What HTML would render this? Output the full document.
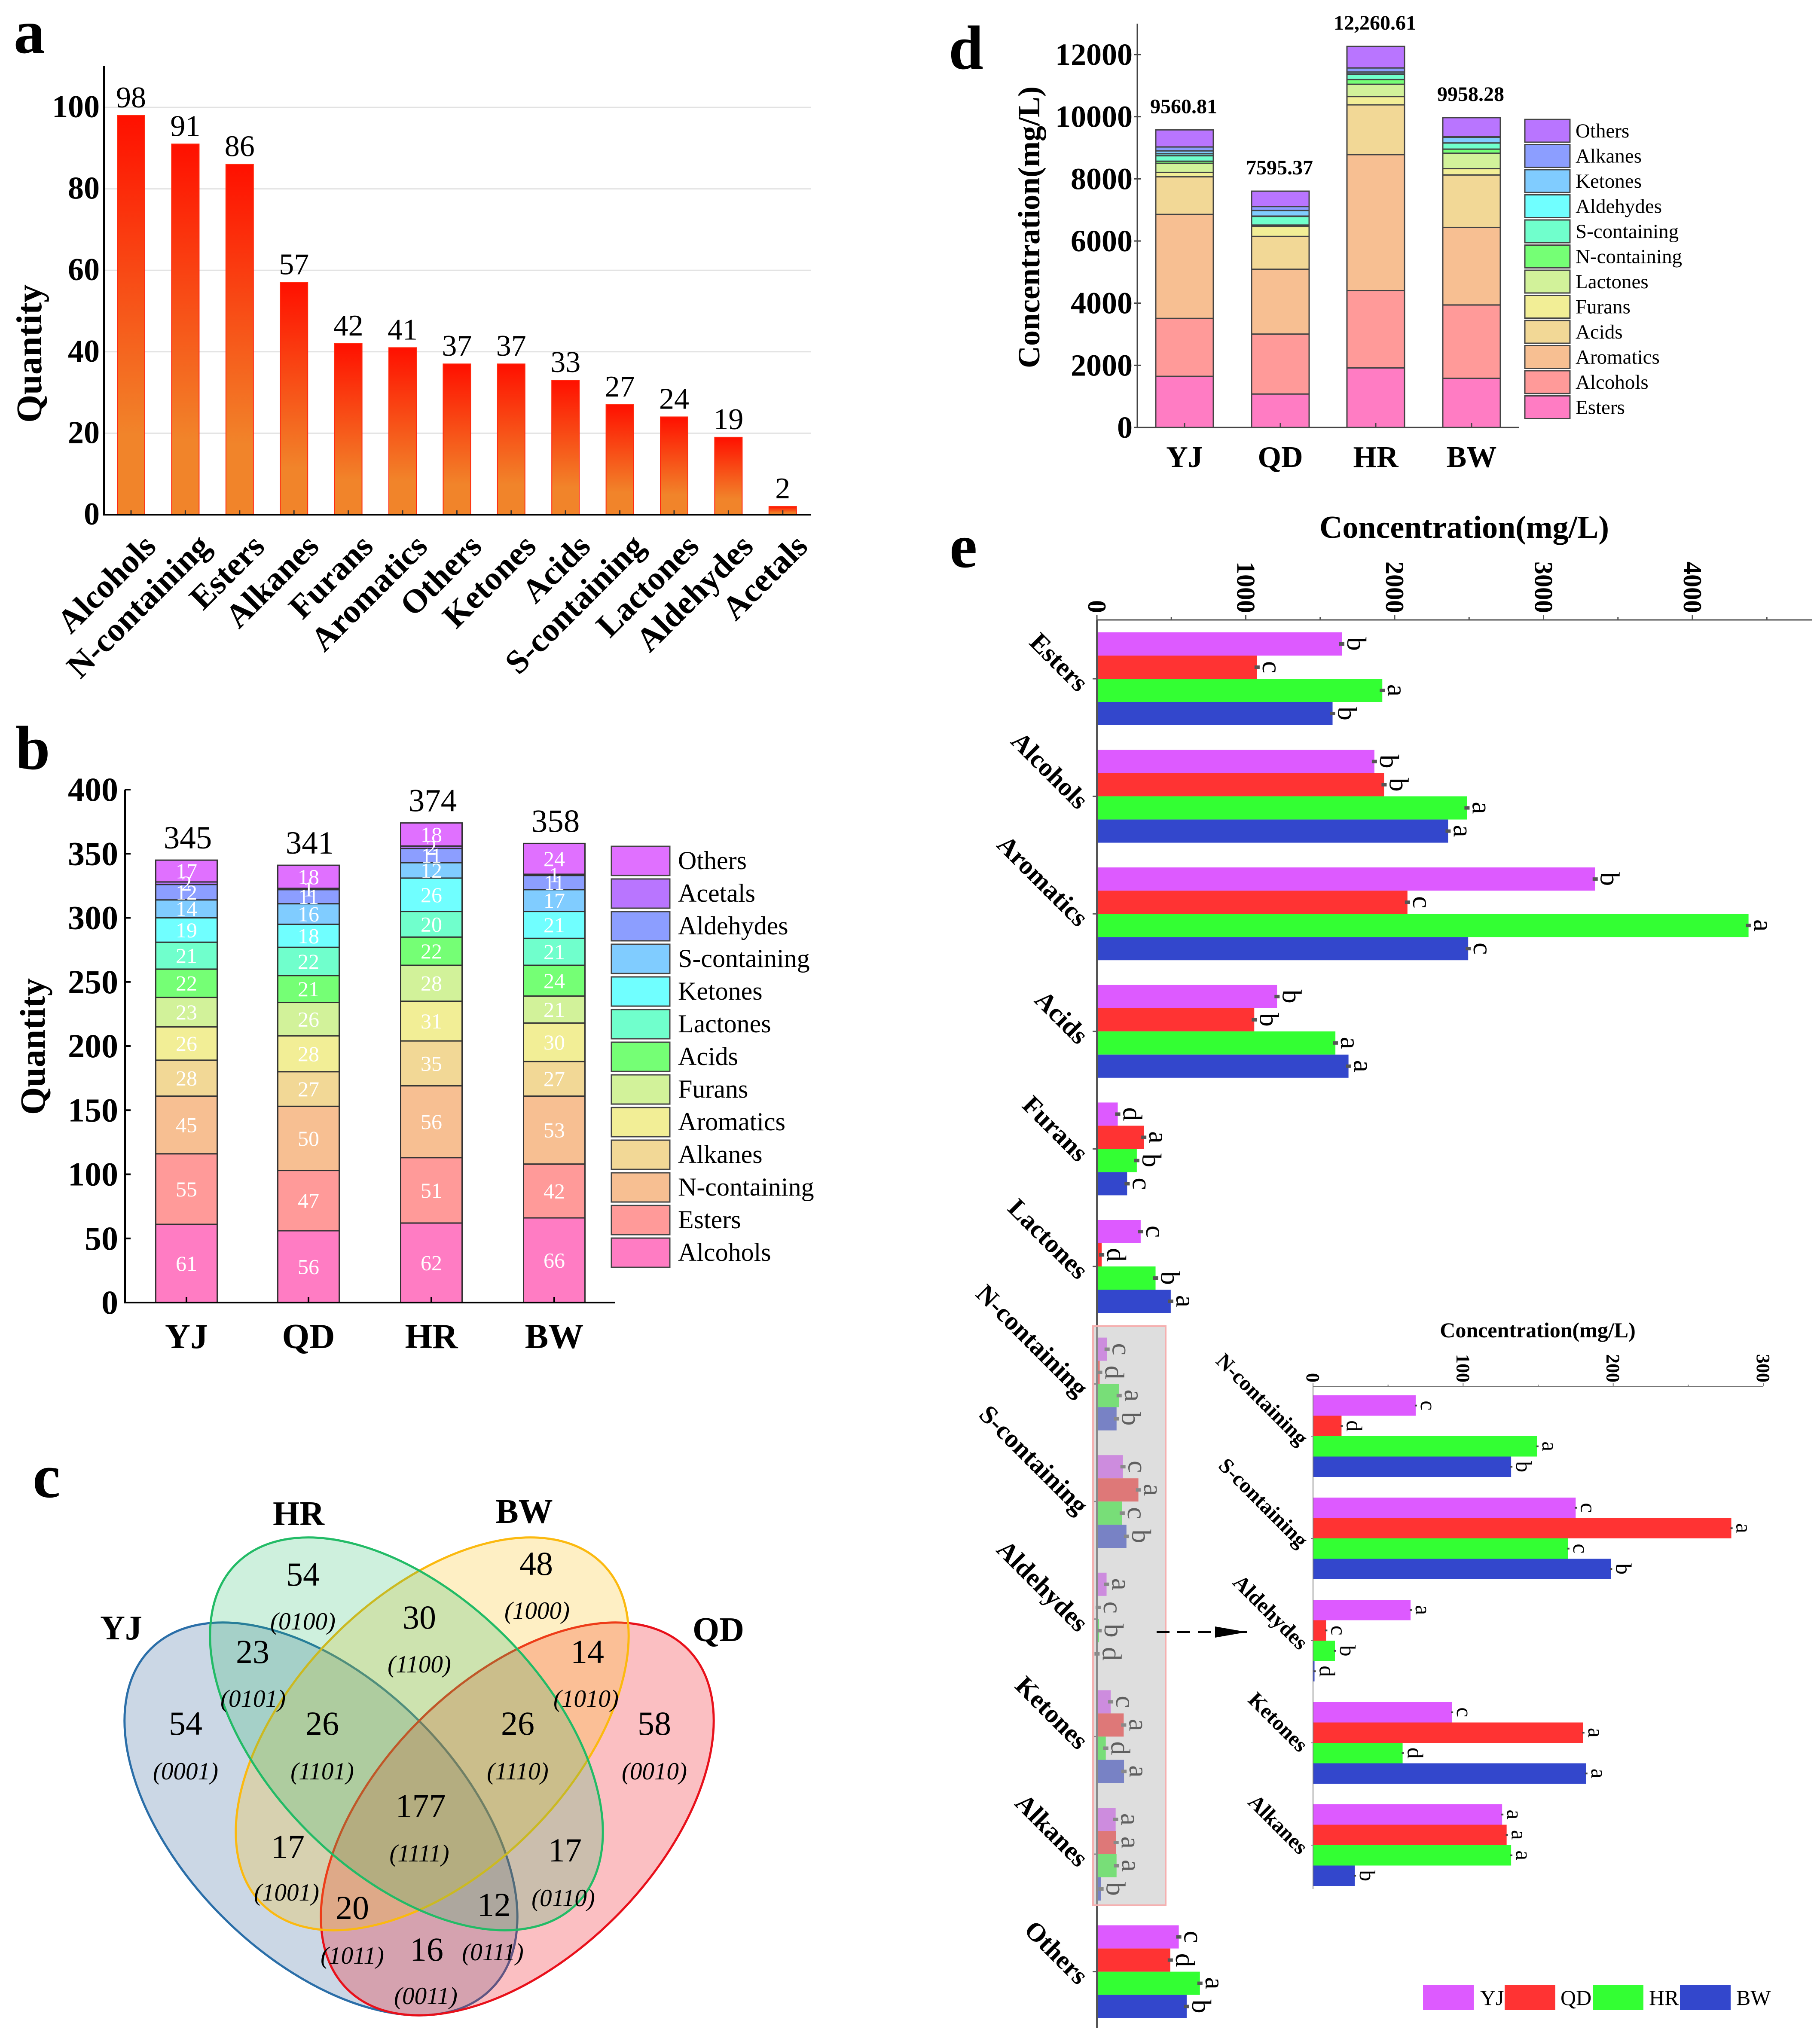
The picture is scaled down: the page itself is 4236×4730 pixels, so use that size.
<!DOCTYPE html>
<html lang="en">
<head>
<meta charset="utf-8">
<title>Flavor compound figure</title>
<style>
html,body{margin:0;padding:0;background:#fff;}
svg{display:block;font-family:"Liberation Serif",serif;}
</style>
</head>
<body>
<svg id="figure" xmlns="http://www.w3.org/2000/svg" width="4236" height="4730" viewBox="0 0 4236 4730">
<defs>
<linearGradient id="barGrad" x1="0" y1="0" x2="0" y2="1"><stop offset="0" stop-color="#ff1000"/><stop offset="0.8" stop-color="#f1842a"/><stop offset="1" stop-color="#f1842a"/></linearGradient>
<marker id="arrowHead" markerWidth="74" markerHeight="26" refX="74" refY="13" orient="auto" markerUnits="userSpaceOnUse"><path d="M0 0 L74 13 L0 26 Z" fill="#000"/></marker>
</defs>
<text x="32" y="123" font-size="145" font-weight="bold">a</text>
<text x="36" y="1790" font-size="145" font-weight="bold">b</text>
<text x="76" y="3485" font-size="145" font-weight="bold">c</text>
<text x="2208" y="160" font-size="145" font-weight="bold">d</text>
<text x="2210" y="1320" font-size="145" font-weight="bold">e</text>
<g id="panelA"></g>
<g id="panelB"></g>
<g id="panelC" transform="translate(0 20)">
<g transform="translate(747 4214) rotate(45)"><ellipse rx="560" ry="323" fill="#2f6099" fill-opacity=".25" stroke="#2a6ea8" stroke-width="5"/></g>
<g transform="translate(1204 4214) rotate(-45)"><ellipse rx="560" ry="323" fill="#f0141e" fill-opacity=".27" stroke="#e8101a" stroke-width="5"/></g>
<g transform="translate(1006 4016) rotate(-45)"><ellipse rx="560" ry="323" fill="#fbc015" fill-opacity=".25" stroke="#fbb90f" stroke-width="5"/></g>
<g transform="translate(946 4016) rotate(45)"><ellipse rx="560" ry="323" fill="#22bb66" fill-opacity=".22" stroke="#22bb66" stroke-width="5"/></g>
<g font-size="80" font-weight="bold" text-anchor="middle">
<text x="282" y="3796">YJ</text>
<text x="695" y="3530">HR</text>
<text x="1220" y="3525">BW</text>
<text x="1672" y="3800">QD</text>
</g>
<g font-size="78" text-anchor="middle">
<text x="432" y="4018">54</text>
<text x="705" y="3671">54</text>
<text x="1248" y="3646">48</text>
<text x="1523" y="4018">58</text>
<text x="588" y="3851">23</text>
<text x="976" y="3771">30</text>
<text x="1367" y="3851">14</text>
<text x="750" y="4018">26</text>
<text x="1205" y="4018">26</text>
<text x="979" y="4210">177</text>
<text x="670" y="4305">17</text>
<text x="1315" y="4313">17</text>
<text x="820" y="4447">20</text>
<text x="1150" y="4440">12</text>
<text x="993" y="4544">16</text>
</g>
<g font-size="57" font-style="italic" text-anchor="middle">
<text x="432" y="4122">(0001)</text>
<text x="705" y="3773">(0100)</text>
<text x="1250" y="3748">(1000)</text>
<text x="1523" y="4122">(0010)</text>
<text x="589" y="3953">(0101)</text>
<text x="976" y="3873">(1100)</text>
<text x="1364" y="3953">(1010)</text>
<text x="750" y="4122">(1101)</text>
<text x="1205" y="4122">(1110)</text>
<text x="976" y="4313">(1111)</text>
<text x="667" y="4404">(1001)</text>
<text x="1311" y="4417">(0110)</text>
<text x="820" y="4551">(1011)</text>
<text x="1147" y="4543">(0111)</text>
<text x="991" y="4645">(0011)</text>
</g>
</g>
<g id="panelD"></g>
<g id="panelE"></g>
<g id="panelInset"></g>
</svg>
<script>
// ---------- panel a data ----------
const quantityCategories = ['Alcohols','N-containing','Esters','Alkanes','Furans','Aromatics','Others','Ketones','Acids','S-containing','Lactones','Aldehydes','Acetals'];
const quantityValues = [98,91,86,57,42,41,37,37,33,27,24,19,2];
const quantityTicks = [0,20,40,60,80,100];

// ---------- panel b data ----------
const samples = ['YJ','QD','HR','BW'];
const countClasses = ['Alcohols','Esters','N-containing','Alkanes','Aromatics','Furans','Acids','Lactones','Ketones','S-containing','Aldehydes','Acetals','Others'];
const countsYJ = [61,55,45,28,26,23,22,21,19,14,12,2,17];
const countsQD = [56,47,50,27,28,26,21,22,18,16,11,1,18];
const countsHR = [62,51,56,35,31,28,22,20,26,12,11,2,18];
const countsBW = [66,42,53,27,30,21,24,21,21,17,11,1,24];
const countTotals = [345,341,374,358];
const countTicks = [0,50,100,150,200,250,300,350,400];

// ---------- panels d and e data ----------
const concClasses = ['Esters','Alcohols','Aromatics','Acids','Furans','Lactones','N-containing','S-containing','Aldehydes','Ketones','Alkanes','Others'];
const concYJ = [1645,1864,3347,1210,140,294,68.4,175,65,92.5,126,550];
const concQD = [1076,1929,2086,1057,315,32,19,278.7,8.7,180,129,493];
const concHR = [1917,2486,4377,1602,268,394,149.4,170,14.6,59.7,132,692];
const concBW = [1583,2359,2494,1690,203,496,132,198.5,1,182,27.8,603];
const concTotalLabels = ['9560.81','7595.37','12,260.61','9958.28'];
const stackTicksD = [0,2000,4000,6000,8000,10000,12000];
const barTicksE = [0,1000,2000,3000,4000];
const minorTicksE = [500,1500,2500,3500,4500];
const lettersYJ = ['b','b','b','b','d','c','c','c','a','c','a','c'];
const lettersQD = ['c','b','c','b','a','d','d','a','c','a','a','d'];
const lettersHR = ['a','a','a','a','b','b','a','c','b','d','a','a'];
const lettersBW = ['b','a','c','a','c','a','b','b','d','a','b','b'];
const insetClassIndices = [6,7,8,9,10];
const insetTicks = [0,100,200,300];
const insetMinorTicks = [50,150,250];

// ---------- colours ----------
const paletteB = ['#ff7cc3','#ff9a99','#f7bf92','#f2d896','#f2ee96','#d2f29a','#75ff75','#70ffcc','#70ffff','#80ccff','#8c9eff','#b975ff','#e070ff'];
const paletteD = ['#ff7cc3','#ff9a99','#f7bf92','#f2d896','#f2ee96','#d2f29a','#75ff75','#70ffcc','#70ffff','#80ccff','#8c9eff','#b975ff'];
const sampleColors = ['#dd5aff','#ff3333','#33ff33','#3347cc'];

const NS = 'http://www.w3.org/2000/svg';
function el(tag, attrs, parent) {
  const n = document.createElementNS(NS, tag);
  for (const k in attrs) n.setAttribute(k, attrs[k]);
  parent.appendChild(n);
  return n;
}
function txt(parent, str, x, y, size, o) {
  o = o || {};
  const a = {x:0, y:0, 'font-size':size, 'text-anchor':o.anchor || 'middle', fill:o.fill || '#000',
    transform:'translate(' + x + ' ' + y + ') rotate(' + (o.rot || 0) + ')'};
  if (o.bold) a['font-weight'] = 'bold';
  const n = el('text', a, parent);
  n.textContent = str;
  return n;
}
function linear(d0, d1, r0, r1) { return function (v) { return r0 + (v - d0) * (r1 - r0) / (d1 - d0); }; }
function slug(s) { return s.toLowerCase().replace(/[^a-z0-9]+/g, '-'); }
function line(parent, x1, y1, x2, y2, color, w) {
  return el('line', {x1:x1, y1:y1, x2:x2, y2:y2, stroke:color, 'stroke-width':w}, parent);
}

// ================= PANEL A =================
(function () {
  const g = document.getElementById('panelA');
  const y = linear(0, 100, 1198, 250);
  const axisX = 242, right = 1888, x0 = 305, step = 126.4, bw = 64;
  quantityTicks.forEach(function (t) {
    if (t > 0) {
      const gl = line(g, axisX, y(t), right, y(t), '#e2e2e2', 3);
      
      
    }
    const tl = txt(g, t, 232, y(t) + 23, 74, {anchor:'end', bold:true});
    
    
  });
  quantityCategories.forEach(function (c, i) {
    const cx = x0 + i * step, v = quantityValues[i];
    const b = el('rect', {x:cx - bw / 2, y:y(v), width:bw, height:y(0) - y(v), fill:'url(#barGrad)', stroke:'#ff2a10', 'stroke-width':2}, g);
    
    
    const tk = line(g, cx, y(0), cx, y(0) - 10, '#333', 3);
    
    
    const vl = txt(g, v, cx, y(v) - 19, 70);
    
    
    const cl = txt(g, c, cx + 62, y(0) + 78, 78, {anchor:'end', bold:true, rot:-45});
    
    
  });
  const ya = line(g, axisX, 153, axisX, y(0) + 2, '#000', 4);
  
  
  const xa = line(g, axisX, y(0), right, y(0), '#000', 4);
  
  
  const yt = txt(g, 'Quantity', 96, 823, 84, {bold:true, rot:-90});
  
  
})();

// ================= PANEL B =================
(function () {
  const g = document.getElementById('panelB');
  const y = linear(0, 400, 3032, 1838);
  const axisX = 291, right = 1432, bw = 143;
  const centers = [434, 718, 1004, 1290];
  const series = [countsYJ, countsQD, countsHR, countsBW];
  countTicks.forEach(function (t) {
    const tk = line(g, axisX, y(t), axisX + 13, y(t), '#000', 4);
    
    
    const tl = txt(g, t, 275, y(t) + 26, 78, {anchor:'end', bold:true});
    
    
  });
  samples.forEach(function (s, i) {
    let cum = 0;
    series[i].forEach(function (v, j) {
      const top = y(cum + v), bot = y(cum);
      const r = el('rect', {x:centers[i] - bw / 2, y:top, width:bw, height:bot - top, fill:paletteB[j], stroke:'#333', 'stroke-width':3}, g);
      
      
      cum += v;
    });
    cum = 0;
    series[i].forEach(function (v, j) {
      const mid = y(cum + v / 2);
      const l = txt(g, v, centers[i], mid + 17, 50, {fill:'#fff'});
      
      
      cum += v;
    });
    const tk = line(g, centers[i], y(0), centers[i], y(0) - 13, '#000', 4);
    
    
    const tot = txt(g, countTotals[i], centers[i] + 3, y(cum) - 27, 75);
    
    
    const cl = txt(g, s, centers[i], 3138, 82, {bold:true});
    
    
  });
  const ya = line(g, axisX, y(400), axisX, y(0) + 2, '#000', 4);
  
  
  const xa = line(g, axisX, y(0), right, y(0), '#000', 4);
  
  
  const yt = txt(g, 'Quantity', 104, 2436, 83, {bold:true, rot:-90});
  
  
  const n = countClasses.length;
  countClasses.forEach(function (c, j) {
    const ly = 1970 + (n - 1 - j) * 76;
    const sw = el('rect', {x:1423, y:ly, width:136, height:68, fill:paletteB[j], stroke:'#444', 'stroke-width':3}, g);
    
    
    const lt = txt(g, c, 1578, ly + 53, 60, {anchor:'start'});
    
    
  });
})();

// ================= PANEL D =================
(function () {
  const g = document.getElementById('panelD');
  const y = linear(0, 12000, 995, 127);
  const axisX = 2647, right = 3535, bw = 134;
  const centers = [2757, 2980, 3202, 3425];
  const series = [concYJ, concQD, concHR, concBW];
  stackTicksD.forEach(function (t) {
    const tk = line(g, axisX - 8, y(t), axisX + 8, y(t), '#444', 3);
    
    
    const tl = txt(g, t, 2636, y(t) + 24, 72, {anchor:'end', bold:true});
    
    
  });
  samples.forEach(function (s, i) {
    let cum = 0;
    series[i].forEach(function (v, j) {
      const top = y(cum + v), bot = y(cum);
      const r = el('rect', {x:centers[i] - bw / 2, y:top, width:bw, height:bot - top, fill:paletteD[j], stroke:'#444', 'stroke-width':3}, g);
      
      
      cum += v;
    });
    const tk = line(g, centers[i], y(0), centers[i], y(0) - 10, '#444', 3);
    
    
    const tot = txt(g, concTotalLabels[i], centers[i] - 2, y(cum) - 39, 48, {bold:true});
    
    
    const cl = txt(g, s, centers[i], 1087, 70, {bold:true});
    
    
  });
  const ya = line(g, axisX, 55, axisX, y(0) + 2, '#444', 3);
  
  
  const xa = line(g, axisX, y(0), right, y(0), '#444', 3);
  
  
  const yt = txt(g, 'Concentration(mg/L)', 2419, 529, 72, {bold:true, rot:-90});
  
  
  const n = concClasses.length;
  concClasses.forEach(function (c, j) {
    const ly = 278 + (n - 1 - j) * 58.5;
    const sw = el('rect', {x:3549, y:ly, width:105, height:53, fill:paletteD[j], stroke:'#444', 'stroke-width':3}, g);
    
    
    const lt = txt(g, c, 3667, ly + 42, 47, {anchor:'start'});
    
    
  });
})();

// ================= PANEL E =================
(function () {
  const g = document.getElementById('panelE');
  const x = linear(0, 1000, 2553, 2899.5);
  const axisY = 1443, top0 = 1472, pitch = 273.6, bh = 54;
  const series = [concYJ, concQD, concHR, concBW];
  const letters = [lettersYJ, lettersQD, lettersHR, lettersBW];
  barTicksE.forEach(function (t) {
    const tk = line(g, x(t), axisY, x(t), axisY - 12, '#555', 3);
    
    
    const tl = txt(g, t, x(t) - 20, axisY - 16, 60, {anchor:'end', bold:true, rot:90});
    
    
  });
  minorTicksE.forEach(function (t) {
    const tk = line(g, x(t), axisY, x(t), axisY - 7, '#555', 3);
    
    
  });
  concClasses.forEach(function (c, i) {
    const gt = top0 + i * pitch;
    samples.forEach(function (s, j) {
      const v = series[j][i], by = gt + j * bh;
      const r = el('rect', {x:x(0), y:by, width:x(v) - x(0), height:bh, fill:sampleColors[j]}, g);
      
      
      const eb = el('rect', {x:x(v) - 6, y:by + bh / 2 - 4, width:12, height:8, fill:'#555'}, g);
      
      
      const l = txt(g, letters[j][i], x(v) + 13, by + bh / 2, 64, {rot:90});
      
      
    });
    const mid = gt + 2 * bh;
    const tk = line(g, x(0) - 10, mid, x(0), mid, '#555', 3);
    
    
    const cl = txt(g, c, 2508, mid + 33, 61, {anchor:'end', bold:true, rot:45});
    
    
  });
  const ya = line(g, x(0), axisY, x(0), 4720, '#555', 4);
  
  
  const xa = line(g, x(0), axisY, 4218, axisY, '#555', 3);
  
  
  const xt = txt(g, 'Concentration(mg/L)', 3408, 1252, 74, {bold:true});
  
  
  const ov = el('rect', {x:2544, y:3087, width:169, height:1348, fill:'rgb(190,190,190)', 'fill-opacity':.5, stroke:'#f5b0b0', 'stroke-width':4}, g);
  
  
  const ar = el('line', {x1:2692, y1:3799, x2:2902, y2:3799, stroke:'#000', 'stroke-width':4, 'stroke-dasharray':'30 18', 'marker-end':'url(#arrowHead)'}, g);
  
  
  const legX = [3312, 3502, 3707, 3910], legT = [3445, 3632, 3838, 4041];
  samples.forEach(function (s, j) {
    const sw = el('rect', {x:legX[j], y:4620, width:118, height:59, fill:sampleColors[j]}, g);
    
    
    const lt = txt(g, s, legT[j], 4667, 50, {anchor:'start'});
    
    
  });
})();

// ================= INSET =================
(function () {
  const g = document.getElementById('panelInset');
  const x = linear(0, 300, 3056, 4104);
  const axisY = 3227, axisBottom = 4397, top0 = 3248, pitch = 238, bh = 47.5;
  const series = [concYJ, concQD, concHR, concBW];
  const letters = [lettersYJ, lettersQD, lettersHR, lettersBW];
  insetTicks.forEach(function (t) {
    const tk = line(g, x(t), axisY, x(t), axisY - 7, '#777', 2);
    
    
    const tl = txt(g, t, x(t) - 15, axisY - 9, 44, {anchor:'end', bold:true, rot:90});
    
    
  });
  insetMinorTicks.forEach(function (t) {
    const tk = line(g, x(t), axisY, x(t), axisY - 4, '#777', 2);
    
    
  });
  insetClassIndices.forEach(function (ci, i) {
    const c = concClasses[ci];
    const gt = top0 + i * pitch;
    samples.forEach(function (s, j) {
      const v = series[j][ci], by = gt + j * bh;
      const r = el('rect', {x:x(0), y:by, width:x(v) - x(0), height:bh, fill:sampleColors[j]}, g);
      
      
      const eb = el('rect', {x:x(v) - 2, y:by + bh / 2 - 2, width:5, height:4, fill:'#444'}, g);
      
      
      const l = txt(g, letters[j][ci], x(v) + 12, by + bh / 2, 52, {rot:90});
      
      
    });
    const mid = gt + 2 * bh;
    const tk = line(g, x(0) - 5, mid, x(0), mid, '#777', 2);
    
    
    const cl = txt(g, c, 3024, mid + 24, 50, {anchor:'end', bold:true, rot:45});
    
    
  });
  const ya = line(g, x(0), axisY, x(0), axisBottom, '#777', 2);
  
  
  const xa = line(g, x(0), axisY, x(300), axisY, '#777', 2);
  
  
  const xt = txt(g, 'Concentration(mg/L)', 3579, 3113, 50, {bold:true});
  
  
})();
</script>
</body>
</html>
